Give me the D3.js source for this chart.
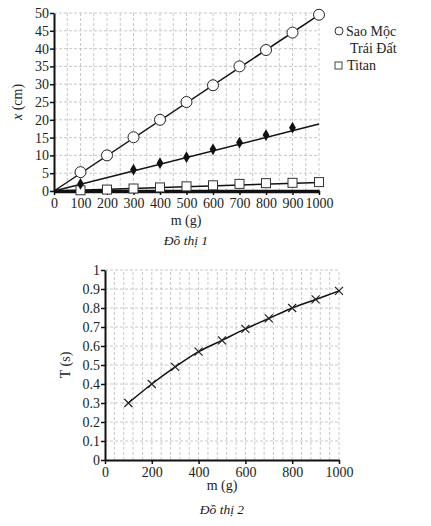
<!DOCTYPE html>
<html><head><meta charset="utf-8">
<script src="https://cdn.jsdelivr.net/npm/d3@7"></script>
<style>
body{margin:0;background:#fff;}
svg text{font-family:'Liberation Serif','DejaVu Serif','Times New Roman',serif !important;fill:#222;}
</style></head>
<body>
<svg id="c" width="431" height="526" font-family="'Liberation Serif', 'DejaVu Serif', serif"></svg>
<script>
// ---- Data: chart 1 ----
const masses = [100,200,300,400,500,600,700,800,900,1000];
const saoMoc = [5.3,10,15.1,20,25,29.7,35,39.6,44.5,49.5];
const traiDatM = [100,300,400,500,600,700,800,900];
const traiDat = [2,6,7.8,9.5,11.7,13.6,15.7,17.8];
const titan = [0.2,0.4,0.7,1.0,1.3,1.6,2.0,2.2,2.3,2.5];
// fitted trend lines (endpoints)
const trendM = [0,1000];
const trendSaoMoc = [0,49.5];
const trendTraiDat = [0,18.8];
const trendTitan = [0,2.4];
const x1Ticks = [0,100,200,300,400,500,600,700,800,900,1000];
const y1Ticks = [0,5,10,15,20,25,30,35,40,45,50];
const legendLabels = ["Sao Mộc","Trái Đất","Titan"];
// ---- Data: chart 2 ----
const periodT = [0.30,0.40,0.49,0.57,0.63,0.69,0.745,0.80,0.845,0.89];
const x2Ticks = [0,200,400,600,800,1000];
const y2Ticks = [0,0.1,0.2,0.3,0.4,0.5,0.6,0.7,0.8,0.9,1];

const FONT = "'Liberation Serif', 'DejaVu Serif', serif";
const svg = d3.select("#c");
const gridCol = "#c8c8c8";

// ===== Chart 1 =====
const x1 = d3.scaleLinear().domain([0,1000]).range([54,319]);
const y1 = d3.scaleLinear().domain([0,50]).range([191,13]);
const g1 = svg.append("g");
g1.append("g").selectAll("line").data(d3.range(50,1001,50)).join("line")
  .attr("x1",d=>x1(d)).attr("x2",d=>x1(d)).attr("y1",y1(0)).attr("y2",y1(50))
  .attr("stroke",gridCol).attr("stroke-dasharray","3,2").attr("stroke-width",1);
g1.append("g").selectAll("line").data(y1Ticks.slice(1)).join("line")
  .attr("x1",x1(0)).attr("x2",x1(1000)).attr("y1",d=>y1(d)).attr("y2",d=>y1(d))
  .attr("stroke",gridCol).attr("stroke-dasharray","3,2").attr("stroke-width",1);
const ax1 = g1.append("g").attr("transform",`translate(0,${y1(0)})`)
  .call(d3.axisBottom(x1).tickValues(x1Ticks).tickSize(4).tickSizeOuter(0).tickFormat(d3.format("d")));
const ay1 = g1.append("g").attr("transform",`translate(${x1(0)},0)`)
  .call(d3.axisLeft(y1).tickValues(y1Ticks).tickSize(4).tickSizeOuter(0));
[ax1,ay1].forEach(a=>{
  a.attr("font-family",FONT).attr("font-size",14);
  a.selectAll("text").attr("fill","#222");
  a.selectAll("line").attr("stroke","#111").attr("stroke-width",1.5);
});
ax1.select(".domain").attr("stroke","#111").attr("stroke-width",3.5);
ay1.select(".domain").attr("stroke","#111").attr("stroke-width",2);
ay1.selectAll("text").attr("x",-5);
const trendLine = d3.line().x(d=>x1(d[0])).y(d=>y1(d[1]));
[trendSaoMoc,trendTraiDat,trendTitan].forEach(t=>{
  g1.append("path").attr("d",trendLine(trendM.map((m,i)=>[m,t[i]])))
    .attr("fill","none").attr("stroke","#111").attr("stroke-width",1.5);
});
g1.append("g").selectAll("rect").data(masses.map((m,i)=>[m,titan[i]])).join("rect")
  .attr("x",d=>x1(d[0])-4.5).attr("y",d=>y1(d[1])-4.5).attr("width",9).attr("height",9)
  .attr("fill","#fff").attr("stroke","#333").attr("stroke-width",1);
g1.append("g").selectAll("path").data(traiDatM.map((m,i)=>[m,traiDat[i]])).join("path")
  .attr("d",d3.symbol(d3.symbolDiamond,40))
  .attr("transform",d=>`translate(${x1(d[0])},${y1(d[1])})`).attr("fill","#111");
g1.append("g").selectAll("circle").data(masses.map((m,i)=>[m,saoMoc[i]])).join("circle")
  .attr("cx",d=>x1(d[0])).attr("cy",d=>y1(d[1])).attr("r",5.5)
  .attr("fill","#fff").attr("stroke","#222").attr("stroke-width",1);
g1.append("text").attr("x",186).attr("y",225).attr("text-anchor","middle").attr("font-size",14).text("m (g)");
g1.append("text").attr("transform","translate(22,102) rotate(-90)").attr("text-anchor","middle").attr("font-size",14)
  .html('<tspan font-style="italic">x</tspan> (cm)');
g1.append("text").attr("x",186).attr("y",245).attr("text-anchor","middle").attr("font-size",13.5).attr("font-style","italic").text("Đồ thị 1");
const lg = g1.append("g");
lg.append("circle").attr("cx",339).attr("cy",31).attr("r",4).attr("fill","#fff").attr("stroke","#333");
lg.append("text").attr("x",346).attr("y",36).attr("font-size",14).text(legendLabels[0]);
lg.append("text").attr("x",350).attr("y",53).attr("font-size",14).text(legendLabels[1]);
lg.append("rect").attr("x",335).attr("y",62).attr("width",7).attr("height",7).attr("fill","#fff").attr("stroke","#444");
lg.append("text").attr("x",347).attr("y",70).attr("font-size",14).text(legendLabels[2]);

// ===== Chart 2 =====
const x2 = d3.scaleLinear().domain([0,1000]).range([105,339]);
const y2 = d3.scaleLinear().domain([0,1]).range([460,270]);
const g2 = svg.append("g");
g2.append("g").selectAll("line").data(d3.range(40,1001,40)).join("line")
  .attr("x1",d=>x2(d)).attr("x2",d=>x2(d)).attr("y1",y2(0)).attr("y2",y2(1))
  .attr("stroke",gridCol).attr("stroke-dasharray","3,2");
g2.append("g").selectAll("line").data(y2Ticks.slice(1)).join("line")
  .attr("x1",x2(0)).attr("x2",x2(1000)).attr("y1",d=>y2(d)).attr("y2",d=>y2(d))
  .attr("stroke",gridCol).attr("stroke-dasharray","3,2");
const ax2 = g2.append("g").attr("transform",`translate(0,${y2(0)})`)
  .call(d3.axisBottom(x2).tickValues(x2Ticks).tickSize(4).tickSizeOuter(0).tickFormat(d3.format("d")));
const ay2 = g2.append("g").attr("transform",`translate(${x2(0)},0)`)
  .call(d3.axisLeft(y2).tickValues(y2Ticks).tickSize(4).tickSizeOuter(0).tickFormat(d=>d3.format("~g")(d)));
[ax2,ay2].forEach(a=>{
  a.attr("font-family",FONT).attr("font-size",14);
  a.selectAll("text").attr("fill","#222");
  a.selectAll("line").attr("stroke","#111").attr("stroke-width",1.5);
  a.select(".domain").attr("stroke","#111").attr("stroke-width",2);
});
ay2.selectAll("text").attr("x",-5);
g2.append("path")
  .attr("d",d3.line().curve(d3.curveMonotoneX).x((d,i)=>x2(masses[i])).y(d=>y2(d))(periodT))
  .attr("fill","none").attr("stroke","#111").attr("stroke-width",1.5);
g2.append("g").selectAll("path").data(periodT).join("path")
  .attr("d","M-4,-4L4,4M-4,4L4,-4")
  .attr("transform",(d,i)=>`translate(${x2(masses[i])},${y2(d)})`)
  .attr("stroke","#222").attr("stroke-width",1.2).attr("fill","none");
g2.append("text").attr("x",222).attr("y",490).attr("text-anchor","middle").attr("font-size",14).text("m (g)");
g2.append("text").attr("transform","translate(70,365) rotate(-90)").attr("text-anchor","middle").attr("font-size",14).text("T (s)");
g2.append("text").attr("x",222).attr("y",514).attr("text-anchor","middle").attr("font-size",13.5).attr("font-style","italic").text("Đồ thị 2");
</script>
</body></html>
